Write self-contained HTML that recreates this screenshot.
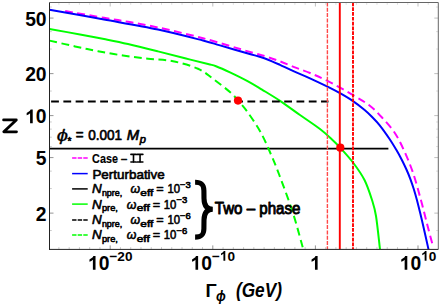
<!DOCTYPE html>
<html><head><meta charset="utf-8"><title>plot</title>
<style>
html,body{margin:0;padding:0;background:#fff;}
body{width:442px;height:305px;overflow:hidden;font-family:"Liberation Sans",sans-serif;}
svg{display:block}
text{font-family:"Liberation Sans",sans-serif;fill:#000}
.tk{font-weight:bold;font-size:19.3px}
.lg{font-weight:normal;stroke:#000;stroke-width:0.62px;stroke-linejoin:round}
.lb{font-weight:normal;stroke:#000;stroke-width:0.9px;stroke-linejoin:round}
</style></head><body>
<svg width="442" height="305" viewBox="0 0 442 305">
<rect x="0" y="0" width="442" height="305" fill="#fff"/>
<defs><clipPath id="cp"><rect x="49.5" y="2.5" width="388.8" height="246.9"/></clipPath></defs>
<g clip-path="url(#cp)" fill="none" stroke-linecap="butt" stroke-linejoin="round">
<path d="M65.20,11.10 C71.67,12.22 93.53,16.02 104.00,17.80 C114.47,19.58 119.00,20.18 128.00,21.80 C137.00,23.42 145.50,24.77 158.00,27.50 C170.50,30.23 188.00,34.22 203.00,38.20 C218.00,42.18 237.72,48.42 248.00,51.40 C258.28,54.38 259.45,54.47 264.70,56.10 C269.95,57.73 274.58,59.37 279.50,61.20 C284.42,63.03 289.12,65.13 294.20,67.10 C299.28,69.07 304.37,70.65 310.00,73.00 C315.63,75.35 320.83,77.52 328.00,81.20 C335.17,84.88 346.08,91.05 353.00,95.10 C359.92,99.15 364.67,101.77 369.50,105.50 C374.33,109.23 377.83,113.00 382.00,117.50 C386.17,122.00 390.87,127.08 394.50,132.50 C398.13,137.92 400.73,143.33 403.80,150.00 C406.87,156.67 410.05,164.17 412.90,172.50 C415.75,180.83 418.45,191.08 420.90,200.00 C423.35,208.92 425.62,218.40 427.60,226.00 C429.58,233.60 431.93,242.33 432.80,245.60" stroke="#ff00ff" stroke-width="2" stroke-dasharray="7.8 4.5"/>
<path d="M49.50,9.80 C58.58,11.42 85.92,16.22 104.00,19.50 C122.08,22.78 141.50,26.00 158.00,29.50 C174.50,33.00 192.67,37.85 203.00,40.50 C213.33,43.15 212.50,43.23 220.00,45.40 C227.50,47.57 241.67,51.68 248.00,53.50 C254.33,55.32 255.17,55.47 258.00,56.30 C260.83,57.13 262.67,57.67 265.00,58.50 C267.33,59.33 269.50,60.23 272.00,61.30 C274.50,62.37 276.33,63.22 280.00,64.90 C283.67,66.58 289.00,69.17 294.00,71.40 C299.00,73.63 304.33,75.72 310.00,78.30 C315.67,80.88 323.00,84.42 328.00,86.90 C333.00,89.38 335.83,90.83 340.00,93.20 C344.17,95.57 348.89,98.30 353.00,101.10 C357.11,103.90 361.48,107.35 364.66,110.00 C367.84,112.65 369.57,114.45 372.08,117.00 C374.59,119.55 376.78,121.60 379.72,125.30 C382.66,129.00 386.97,135.12 389.73,139.20 C392.49,143.28 394.30,146.38 396.30,149.80 C398.30,153.22 400.06,156.42 401.75,159.70 C403.44,162.98 405.00,166.23 406.45,169.50 C407.90,172.77 409.24,176.02 410.47,179.30 C411.70,182.58 412.76,185.75 413.84,189.20 C414.91,192.65 415.78,195.70 416.92,200.00 C418.06,204.30 419.65,210.83 420.67,215.00 C421.69,219.17 421.71,219.27 423.02,225.00 C424.33,230.73 427.59,245.33 428.51,249.40" stroke="#0000ff" stroke-width="2"/>
<line x1="49.5" y1="148.7" x2="388.4" y2="148.7" stroke="#000" stroke-width="1.7"/>
<path d="M49.50,28.90 C54.58,29.83 70.92,32.80 80.00,34.50 C89.08,36.20 96.00,37.50 104.00,39.10 C112.00,40.70 119.00,42.05 128.00,44.10 C137.00,46.15 148.50,49.03 158.00,51.40 C167.50,53.77 176.67,56.20 185.00,58.30 C193.33,60.40 202.83,62.68 208.00,64.00 C213.17,65.32 212.33,64.82 216.00,66.20 C219.67,67.58 224.67,69.78 230.00,72.30 C235.33,74.82 242.67,78.42 248.00,81.30 C253.33,84.18 256.67,86.35 262.00,89.60 C267.33,92.85 273.67,96.57 280.00,100.80 C286.33,105.03 293.33,110.30 300.00,115.00 C306.67,119.70 314.67,124.92 320.00,129.00 C325.33,133.08 328.67,136.42 332.00,139.50 C335.33,142.58 336.50,143.67 340.00,147.50 C343.50,151.33 348.92,157.08 353.00,162.50 C357.08,167.92 361.33,173.75 364.50,180.00 C367.67,186.25 370.08,194.00 372.00,200.00 C373.92,206.00 374.67,207.77 376.00,216.00 C377.33,224.23 379.33,243.83 380.00,249.40" stroke="#00ff00" stroke-width="2"/>
<line x1="51.1" y1="101.5" x2="328.5" y2="101.5" stroke="#000" stroke-width="1.8" stroke-dasharray="7.8 4.47"/>
<path d="M49.50,40.60 C53.75,41.57 66.92,44.63 75.00,46.40 C83.08,48.17 90.00,49.68 98.00,51.20 C106.00,52.72 114.67,54.24 123.00,55.50 C131.33,56.76 139.67,57.79 148.00,58.75 C156.33,59.71 164.67,59.58 173.00,61.25 C181.33,62.92 191.33,65.83 198.00,68.75 C204.67,71.67 207.58,74.79 213.00,78.75 C218.42,82.71 226.33,88.88 230.50,92.50 C234.67,96.12 235.12,97.17 238.00,100.50 C240.88,103.83 244.00,107.17 247.80,112.50 C251.60,117.83 256.90,125.42 260.80,132.50 C264.70,139.58 268.12,147.92 271.20,155.00 C274.28,162.08 275.70,165.42 279.30,175.00 C282.90,184.58 288.80,200.10 292.80,212.50 C296.80,224.90 301.55,243.25 303.30,249.40" stroke="#00ff00" stroke-width="2" stroke-dasharray="7.8 4.5"/>
<line x1="327.4" y1="2.5" x2="327.4" y2="249.4" stroke="#ff4848" stroke-width="1.4" stroke-dasharray="4 1.3"/>
<line x1="339.8" y1="2.5" x2="339.8" y2="249.4" stroke="#ff0000" stroke-width="1.9"/>
<line x1="353.0" y1="2.5" x2="353.0" y2="249.4" stroke="#ff0000" stroke-width="1.9" stroke-dasharray="3.7 1.1"/>
<circle cx="238" cy="100.6" r="4.1" fill="#ff0000" stroke="none"/>
<circle cx="340.3" cy="147.7" r="4.1" fill="#ff0000" stroke="none"/>
</g>
<g><line x1="58.90" y1="249.40" x2="58.90" y2="247.10" stroke="#000" stroke-opacity="0.35" stroke-width="0.6"/><line x1="58.90" y1="2.50" x2="58.90" y2="4.80" stroke="#666" stroke-opacity="0.35" stroke-width="0.6"/><line x1="69.16" y1="249.40" x2="69.16" y2="247.10" stroke="#000" stroke-opacity="0.35" stroke-width="0.6"/><line x1="69.16" y1="2.50" x2="69.16" y2="4.80" stroke="#666" stroke-opacity="0.35" stroke-width="0.6"/><line x1="79.42" y1="249.40" x2="79.42" y2="247.10" stroke="#000" stroke-opacity="0.35" stroke-width="0.6"/><line x1="79.42" y1="2.50" x2="79.42" y2="4.80" stroke="#666" stroke-opacity="0.35" stroke-width="0.6"/><line x1="89.68" y1="249.40" x2="89.68" y2="247.10" stroke="#000" stroke-opacity="0.35" stroke-width="0.6"/><line x1="89.68" y1="2.50" x2="89.68" y2="4.80" stroke="#666" stroke-opacity="0.35" stroke-width="0.6"/><line x1="99.94" y1="249.40" x2="99.94" y2="247.10" stroke="#000" stroke-opacity="0.35" stroke-width="0.6"/><line x1="99.94" y1="2.50" x2="99.94" y2="4.80" stroke="#666" stroke-opacity="0.35" stroke-width="0.6"/><line x1="110.20" y1="249.40" x2="110.20" y2="245.40" stroke="#000" stroke-opacity="0.7" stroke-width="0.6"/><line x1="110.20" y1="2.50" x2="110.20" y2="6.50" stroke="#666" stroke-opacity="0.7" stroke-width="0.6"/><line x1="120.46" y1="249.40" x2="120.46" y2="247.10" stroke="#000" stroke-opacity="0.35" stroke-width="0.6"/><line x1="120.46" y1="2.50" x2="120.46" y2="4.80" stroke="#666" stroke-opacity="0.35" stroke-width="0.6"/><line x1="130.72" y1="249.40" x2="130.72" y2="247.10" stroke="#000" stroke-opacity="0.35" stroke-width="0.6"/><line x1="130.72" y1="2.50" x2="130.72" y2="4.80" stroke="#666" stroke-opacity="0.35" stroke-width="0.6"/><line x1="140.98" y1="249.40" x2="140.98" y2="247.10" stroke="#000" stroke-opacity="0.35" stroke-width="0.6"/><line x1="140.98" y1="2.50" x2="140.98" y2="4.80" stroke="#666" stroke-opacity="0.35" stroke-width="0.6"/><line x1="151.24" y1="249.40" x2="151.24" y2="247.10" stroke="#000" stroke-opacity="0.35" stroke-width="0.6"/><line x1="151.24" y1="2.50" x2="151.24" y2="4.80" stroke="#666" stroke-opacity="0.35" stroke-width="0.6"/><line x1="161.50" y1="249.40" x2="161.50" y2="247.10" stroke="#000" stroke-opacity="0.35" stroke-width="0.6"/><line x1="161.50" y1="2.50" x2="161.50" y2="4.80" stroke="#666" stroke-opacity="0.35" stroke-width="0.6"/><line x1="171.76" y1="249.40" x2="171.76" y2="247.10" stroke="#000" stroke-opacity="0.35" stroke-width="0.6"/><line x1="171.76" y1="2.50" x2="171.76" y2="4.80" stroke="#666" stroke-opacity="0.35" stroke-width="0.6"/><line x1="182.02" y1="249.40" x2="182.02" y2="247.10" stroke="#000" stroke-opacity="0.35" stroke-width="0.6"/><line x1="182.02" y1="2.50" x2="182.02" y2="4.80" stroke="#666" stroke-opacity="0.35" stroke-width="0.6"/><line x1="192.28" y1="249.40" x2="192.28" y2="247.10" stroke="#000" stroke-opacity="0.35" stroke-width="0.6"/><line x1="192.28" y1="2.50" x2="192.28" y2="4.80" stroke="#666" stroke-opacity="0.35" stroke-width="0.6"/><line x1="202.54" y1="249.40" x2="202.54" y2="247.10" stroke="#000" stroke-opacity="0.35" stroke-width="0.6"/><line x1="202.54" y1="2.50" x2="202.54" y2="4.80" stroke="#666" stroke-opacity="0.35" stroke-width="0.6"/><line x1="212.80" y1="249.40" x2="212.80" y2="245.40" stroke="#000" stroke-opacity="0.7" stroke-width="0.6"/><line x1="212.80" y1="2.50" x2="212.80" y2="6.50" stroke="#666" stroke-opacity="0.7" stroke-width="0.6"/><line x1="223.06" y1="249.40" x2="223.06" y2="247.10" stroke="#000" stroke-opacity="0.35" stroke-width="0.6"/><line x1="223.06" y1="2.50" x2="223.06" y2="4.80" stroke="#666" stroke-opacity="0.35" stroke-width="0.6"/><line x1="233.32" y1="249.40" x2="233.32" y2="247.10" stroke="#000" stroke-opacity="0.35" stroke-width="0.6"/><line x1="233.32" y1="2.50" x2="233.32" y2="4.80" stroke="#666" stroke-opacity="0.35" stroke-width="0.6"/><line x1="243.58" y1="249.40" x2="243.58" y2="247.10" stroke="#000" stroke-opacity="0.35" stroke-width="0.6"/><line x1="243.58" y1="2.50" x2="243.58" y2="4.80" stroke="#666" stroke-opacity="0.35" stroke-width="0.6"/><line x1="253.84" y1="249.40" x2="253.84" y2="247.10" stroke="#000" stroke-opacity="0.35" stroke-width="0.6"/><line x1="253.84" y1="2.50" x2="253.84" y2="4.80" stroke="#666" stroke-opacity="0.35" stroke-width="0.6"/><line x1="264.10" y1="249.40" x2="264.10" y2="247.10" stroke="#000" stroke-opacity="0.35" stroke-width="0.6"/><line x1="264.10" y1="2.50" x2="264.10" y2="4.80" stroke="#666" stroke-opacity="0.35" stroke-width="0.6"/><line x1="274.36" y1="249.40" x2="274.36" y2="247.10" stroke="#000" stroke-opacity="0.35" stroke-width="0.6"/><line x1="274.36" y1="2.50" x2="274.36" y2="4.80" stroke="#666" stroke-opacity="0.35" stroke-width="0.6"/><line x1="284.62" y1="249.40" x2="284.62" y2="247.10" stroke="#000" stroke-opacity="0.35" stroke-width="0.6"/><line x1="284.62" y1="2.50" x2="284.62" y2="4.80" stroke="#666" stroke-opacity="0.35" stroke-width="0.6"/><line x1="294.88" y1="249.40" x2="294.88" y2="247.10" stroke="#000" stroke-opacity="0.35" stroke-width="0.6"/><line x1="294.88" y1="2.50" x2="294.88" y2="4.80" stroke="#666" stroke-opacity="0.35" stroke-width="0.6"/><line x1="305.14" y1="249.40" x2="305.14" y2="247.10" stroke="#000" stroke-opacity="0.35" stroke-width="0.6"/><line x1="305.14" y1="2.50" x2="305.14" y2="4.80" stroke="#666" stroke-opacity="0.35" stroke-width="0.6"/><line x1="315.40" y1="249.40" x2="315.40" y2="245.40" stroke="#000" stroke-opacity="0.7" stroke-width="0.6"/><line x1="315.40" y1="2.50" x2="315.40" y2="6.50" stroke="#666" stroke-opacity="0.7" stroke-width="0.6"/><line x1="325.66" y1="249.40" x2="325.66" y2="247.10" stroke="#000" stroke-opacity="0.35" stroke-width="0.6"/><line x1="325.66" y1="2.50" x2="325.66" y2="4.80" stroke="#666" stroke-opacity="0.35" stroke-width="0.6"/><line x1="335.92" y1="249.40" x2="335.92" y2="247.10" stroke="#000" stroke-opacity="0.35" stroke-width="0.6"/><line x1="335.92" y1="2.50" x2="335.92" y2="4.80" stroke="#666" stroke-opacity="0.35" stroke-width="0.6"/><line x1="346.18" y1="249.40" x2="346.18" y2="247.10" stroke="#000" stroke-opacity="0.35" stroke-width="0.6"/><line x1="346.18" y1="2.50" x2="346.18" y2="4.80" stroke="#666" stroke-opacity="0.35" stroke-width="0.6"/><line x1="356.44" y1="249.40" x2="356.44" y2="247.10" stroke="#000" stroke-opacity="0.35" stroke-width="0.6"/><line x1="356.44" y1="2.50" x2="356.44" y2="4.80" stroke="#666" stroke-opacity="0.35" stroke-width="0.6"/><line x1="366.70" y1="249.40" x2="366.70" y2="247.10" stroke="#000" stroke-opacity="0.35" stroke-width="0.6"/><line x1="366.70" y1="2.50" x2="366.70" y2="4.80" stroke="#666" stroke-opacity="0.35" stroke-width="0.6"/><line x1="376.96" y1="249.40" x2="376.96" y2="247.10" stroke="#000" stroke-opacity="0.35" stroke-width="0.6"/><line x1="376.96" y1="2.50" x2="376.96" y2="4.80" stroke="#666" stroke-opacity="0.35" stroke-width="0.6"/><line x1="387.22" y1="249.40" x2="387.22" y2="247.10" stroke="#000" stroke-opacity="0.35" stroke-width="0.6"/><line x1="387.22" y1="2.50" x2="387.22" y2="4.80" stroke="#666" stroke-opacity="0.35" stroke-width="0.6"/><line x1="397.48" y1="249.40" x2="397.48" y2="247.10" stroke="#000" stroke-opacity="0.35" stroke-width="0.6"/><line x1="397.48" y1="2.50" x2="397.48" y2="4.80" stroke="#666" stroke-opacity="0.35" stroke-width="0.6"/><line x1="407.74" y1="249.40" x2="407.74" y2="247.10" stroke="#000" stroke-opacity="0.35" stroke-width="0.6"/><line x1="407.74" y1="2.50" x2="407.74" y2="4.80" stroke="#666" stroke-opacity="0.35" stroke-width="0.6"/><line x1="418.00" y1="249.40" x2="418.00" y2="245.40" stroke="#000" stroke-opacity="0.7" stroke-width="0.6"/><line x1="418.00" y1="2.50" x2="418.00" y2="6.50" stroke="#666" stroke-opacity="0.7" stroke-width="0.6"/><line x1="428.26" y1="249.40" x2="428.26" y2="247.10" stroke="#000" stroke-opacity="0.35" stroke-width="0.6"/><line x1="428.26" y1="2.50" x2="428.26" y2="4.80" stroke="#666" stroke-opacity="0.35" stroke-width="0.6"/><line x1="49.50" y1="230.54" x2="51.80" y2="230.54" stroke="#000" stroke-opacity="0.35" stroke-width="0.6"/><line x1="438.30" y1="230.54" x2="436.00" y2="230.54" stroke="#666" stroke-opacity="0.35" stroke-width="0.6"/><line x1="49.50" y1="213.11" x2="53.50" y2="213.11" stroke="#000" stroke-opacity="0.7" stroke-width="0.6"/><line x1="438.30" y1="213.11" x2="434.30" y2="213.11" stroke="#666" stroke-opacity="0.7" stroke-width="0.6"/><line x1="49.50" y1="188.54" x2="51.80" y2="188.54" stroke="#000" stroke-opacity="0.35" stroke-width="0.6"/><line x1="438.30" y1="188.54" x2="436.00" y2="188.54" stroke="#666" stroke-opacity="0.35" stroke-width="0.6"/><line x1="49.50" y1="171.11" x2="51.80" y2="171.11" stroke="#000" stroke-opacity="0.35" stroke-width="0.6"/><line x1="438.30" y1="171.11" x2="436.00" y2="171.11" stroke="#666" stroke-opacity="0.35" stroke-width="0.6"/><line x1="49.50" y1="157.59" x2="53.50" y2="157.59" stroke="#000" stroke-opacity="0.7" stroke-width="0.6"/><line x1="438.30" y1="157.59" x2="434.30" y2="157.59" stroke="#666" stroke-opacity="0.7" stroke-width="0.6"/><line x1="49.50" y1="146.55" x2="51.80" y2="146.55" stroke="#000" stroke-opacity="0.35" stroke-width="0.6"/><line x1="438.30" y1="146.55" x2="436.00" y2="146.55" stroke="#666" stroke-opacity="0.35" stroke-width="0.6"/><line x1="49.50" y1="137.21" x2="51.80" y2="137.21" stroke="#000" stroke-opacity="0.35" stroke-width="0.6"/><line x1="438.30" y1="137.21" x2="436.00" y2="137.21" stroke="#666" stroke-opacity="0.35" stroke-width="0.6"/><line x1="49.50" y1="129.12" x2="51.80" y2="129.12" stroke="#000" stroke-opacity="0.35" stroke-width="0.6"/><line x1="438.30" y1="129.12" x2="436.00" y2="129.12" stroke="#666" stroke-opacity="0.35" stroke-width="0.6"/><line x1="49.50" y1="121.98" x2="51.80" y2="121.98" stroke="#000" stroke-opacity="0.35" stroke-width="0.6"/><line x1="438.30" y1="121.98" x2="436.00" y2="121.98" stroke="#666" stroke-opacity="0.35" stroke-width="0.6"/><line x1="49.50" y1="115.60" x2="53.50" y2="115.60" stroke="#000" stroke-opacity="0.7" stroke-width="0.6"/><line x1="438.30" y1="115.60" x2="434.30" y2="115.60" stroke="#666" stroke-opacity="0.7" stroke-width="0.6"/><line x1="49.50" y1="91.04" x2="51.80" y2="91.04" stroke="#000" stroke-opacity="0.35" stroke-width="0.6"/><line x1="438.30" y1="91.04" x2="436.00" y2="91.04" stroke="#666" stroke-opacity="0.35" stroke-width="0.6"/><line x1="49.50" y1="73.61" x2="53.50" y2="73.61" stroke="#000" stroke-opacity="0.7" stroke-width="0.6"/><line x1="438.30" y1="73.61" x2="434.30" y2="73.61" stroke="#666" stroke-opacity="0.7" stroke-width="0.6"/><line x1="49.50" y1="49.04" x2="51.80" y2="49.04" stroke="#000" stroke-opacity="0.35" stroke-width="0.6"/><line x1="438.30" y1="49.04" x2="436.00" y2="49.04" stroke="#666" stroke-opacity="0.35" stroke-width="0.6"/><line x1="49.50" y1="31.61" x2="51.80" y2="31.61" stroke="#000" stroke-opacity="0.35" stroke-width="0.6"/><line x1="438.30" y1="31.61" x2="436.00" y2="31.61" stroke="#666" stroke-opacity="0.35" stroke-width="0.6"/><line x1="49.50" y1="18.09" x2="53.50" y2="18.09" stroke="#000" stroke-opacity="0.7" stroke-width="0.6"/><line x1="438.30" y1="18.09" x2="434.30" y2="18.09" stroke="#666" stroke-opacity="0.7" stroke-width="0.6"/><line x1="49.50" y1="7.05" x2="51.80" y2="7.05" stroke="#000" stroke-opacity="0.35" stroke-width="0.6"/><line x1="438.30" y1="7.05" x2="436.00" y2="7.05" stroke="#666" stroke-opacity="0.35" stroke-width="0.6"/></g>
<line x1="49.5" y1="2.5" x2="438.3" y2="2.5" stroke="#666" stroke-width="1"/>
<line x1="438.3" y1="2.5" x2="438.3" y2="249.4" stroke="#666" stroke-width="1"/>
<line x1="49.5" y1="2.5" x2="49.5" y2="249.9" stroke="#222" stroke-width="1"/>
<line x1="49.0" y1="249.4" x2="438.3" y2="249.4" stroke="#222" stroke-width="1"/>
<text x="25.14" y="25.79" font-size="19.3" font-weight="bold">5</text><text x="35.87" y="25.79" font-size="19.3" font-weight="bold">0</text><text x="25.14" y="81.31" font-size="19.3" font-weight="bold">2</text><text x="35.87" y="81.31" font-size="19.3" font-weight="bold">0</text><path d="M393,0 H256 V518 C206,471 147,436 79,414 V539 C115,551 154,573 196,606 C238,639 267,677 283,720 H393 Z" transform="translate(25.14,123.30) scale(0.01930,-0.01930)" fill="#000"/><text x="35.87" y="123.30" font-size="19.3" font-weight="bold">0</text><text x="35.87" y="165.29" font-size="19.3" font-weight="bold">5</text><text x="35.87" y="220.81" font-size="19.3" font-weight="bold">2</text>
<path d="M393,0 H256 V518 C206,471 147,436 79,414 V539 C115,551 154,573 196,606 C238,639 267,677 283,720 H393 Z" transform="translate(87.94,269.80) scale(0.01930,-0.01930)" fill="#000"/><text x="98.67" y="269.80" font-size="19.3" font-weight="bold">0</text><text x="109.40" y="260.80" font-size="13.6" font-weight="bold">−</text><text x="117.34" y="260.80" font-size="13.6" font-weight="bold">2</text><text x="124.90" y="260.80" font-size="13.6" font-weight="bold">0</text><path d="M393,0 H256 V518 C206,471 147,436 79,414 V539 C115,551 154,573 196,606 C238,639 267,677 283,720 H393 Z" transform="translate(190.54,269.80) scale(0.01930,-0.01930)" fill="#000"/><text x="201.27" y="269.80" font-size="19.3" font-weight="bold">0</text><text x="212.00" y="260.80" font-size="13.6" font-weight="bold">−</text><path d="M393,0 H256 V518 C206,471 147,436 79,414 V539 C115,551 154,573 196,606 C238,639 267,677 283,720 H393 Z" transform="translate(219.94,260.80) scale(0.01360,-0.01360)" fill="#000"/><text x="227.50" y="260.80" font-size="13.6" font-weight="bold">0</text><path d="M393,0 H256 V518 C206,471 147,436 79,414 V539 C115,551 154,573 196,606 C238,639 267,677 283,720 H393 Z" transform="translate(310.03,269.80) scale(0.01930,-0.01930)" fill="#000"/><path d="M393,0 H256 V518 C206,471 147,436 79,414 V539 C115,551 154,573 196,606 C238,639 267,677 283,720 H393 Z" transform="translate(399.71,269.80) scale(0.01930,-0.01930)" fill="#000"/><text x="410.44" y="269.80" font-size="19.3" font-weight="bold">0</text><path d="M393,0 H256 V518 C206,471 147,436 79,414 V539 C115,551 154,573 196,606 C238,639 267,677 283,720 H393 Z" transform="translate(421.17,260.80) scale(0.01360,-0.01360)" fill="#000"/><text x="428.73" y="260.80" font-size="13.6" font-weight="bold">0</text>
<path d="M3.6,119.9 L16.3,119.9 L3.8,131.8 L16.5,131.8" fill="none" stroke="#000" stroke-width="2.8" stroke-linecap="round" stroke-linejoin="round"/>
<text x="205.4" y="296.6" font-weight="bold" font-size="18.5">Γ</text><text x="215.9" y="301" font-weight="bold" font-style="italic" font-size="14.5" textLength="9.8" lengthAdjust="spacingAndGlyphs">ϕ</text><text x="236.0" y="296.6" font-weight="bold" font-style="italic" font-size="19.5" textLength="45.9" lengthAdjust="spacingAndGlyphs">(GeV)</text>
<text class="lg" x="56.80" y="140.50" font-size="16" textLength="11.20" lengthAdjust="spacingAndGlyphs" font-style="italic" style="stroke-width:0.3px">ϕ</text><text class="lg" x="67.60" y="144.90" font-size="10" textLength="4.00" lengthAdjust="spacingAndGlyphs" >*</text><text class="lg" x="75.80" y="140.30" font-size="13.8" textLength="7.80" lengthAdjust="spacingAndGlyphs" >=</text><text class="lg" x="88.20" y="140.30" font-size="13.8" textLength="33.90" lengthAdjust="spacingAndGlyphs" >0.001</text><text class="lg" x="126.70" y="140.30" font-size="13.8" textLength="12.40" lengthAdjust="spacingAndGlyphs" font-style="italic" >M</text><text class="lg" x="139.80" y="143.00" font-size="10.5" textLength="6.20" lengthAdjust="spacingAndGlyphs" font-style="italic" >p</text>
<!-- legend -->
<line x1="72.1" y1="157.9" x2="87.7" y2="157.9" stroke="#ff00ff" stroke-width="1.5" stroke-dasharray="4.4 1.2"/>
<line x1="72.1" y1="173.6" x2="87.7" y2="173.6" stroke="#0000ff" stroke-width="1.5"/>
<line x1="72.1" y1="188.9" x2="87.7" y2="188.9" stroke="#000" stroke-width="1.5"/>
<line x1="72.1" y1="204.1" x2="87.7" y2="204.1" stroke="#00ff00" stroke-width="1.5"/>
<line x1="72.1" y1="220.0" x2="87.7" y2="220.0" stroke="#000" stroke-width="1.5" stroke-dasharray="4.4 1.2"/>
<line x1="72.1" y1="235.1" x2="87.7" y2="235.1" stroke="#00ff00" stroke-width="1.5" stroke-dasharray="4.4 1.2"/>
<text class="lg" x="92.10" y="162.90" font-size="12.8" textLength="25.80" lengthAdjust="spacingAndGlyphs" style="font-weight:bold;stroke-width:0.15px">Case</text><text class="lg" x="121.30" y="162.90" font-size="12.8" textLength="5.60" lengthAdjust="spacingAndGlyphs" >–</text><path d="M133.5,154.2 V162.2 M130.9,154.4 H136.1 M130.9,162.0 H136.1 M140.05,154.2 V162.2 M137.3,154.4 H142.9 M137.3,162.0 H142.9" stroke="#000" stroke-width="1.6" fill="none" stroke-linecap="round"/><text class="lg" x="92.40" y="178.60" font-size="12.8" textLength="72.40" lengthAdjust="spacingAndGlyphs" >Perturbative</text><text class="lg" x="92.10" y="193.40" font-size="13" textLength="9.70" lengthAdjust="spacingAndGlyphs" font-style="italic" >N</text><text class="lg" x="101.90" y="196.00" font-size="9.8" textLength="20.40" lengthAdjust="spacingAndGlyphs" >npre,</text><text class="lg" x="130.40" y="193.40" font-size="13.5" textLength="9.60" lengthAdjust="spacingAndGlyphs" font-style="italic" >ω</text><text class="lg" x="140.30" y="196.00" font-size="9.8" textLength="13.00" lengthAdjust="spacingAndGlyphs" >eff</text><text class="lg" x="156.30" y="193.40" font-size="13.5" textLength="7.40" lengthAdjust="spacingAndGlyphs" >=</text><text class="lg" x="167.40" y="193.40" font-size="13.3" textLength="12.60" lengthAdjust="spacingAndGlyphs" >10</text><text class="lg" x="180.00" y="188.00" font-size="9.8" textLength="10.80" lengthAdjust="spacingAndGlyphs" >−3</text><text class="lg" x="92.10" y="208.80" font-size="13" textLength="9.70" lengthAdjust="spacingAndGlyphs" font-style="italic" >N</text><text class="lg" x="101.90" y="211.40" font-size="9.8" textLength="16.00" lengthAdjust="spacingAndGlyphs" >pre,</text><text class="lg" x="126.80" y="208.80" font-size="13.5" textLength="9.60" lengthAdjust="spacingAndGlyphs" font-style="italic" >ω</text><text class="lg" x="136.70" y="211.40" font-size="9.8" textLength="13.00" lengthAdjust="spacingAndGlyphs" >eff</text><text class="lg" x="152.70" y="208.80" font-size="13.5" textLength="7.40" lengthAdjust="spacingAndGlyphs" >=</text><text class="lg" x="163.80" y="208.80" font-size="13.3" textLength="12.60" lengthAdjust="spacingAndGlyphs" >10</text><text class="lg" x="176.40" y="203.40" font-size="9.8" textLength="10.80" lengthAdjust="spacingAndGlyphs" >−3</text><text class="lg" x="92.10" y="224.20" font-size="13" textLength="9.70" lengthAdjust="spacingAndGlyphs" font-style="italic" >N</text><text class="lg" x="101.90" y="226.80" font-size="9.8" textLength="20.40" lengthAdjust="spacingAndGlyphs" >npre,</text><text class="lg" x="130.40" y="224.20" font-size="13.5" textLength="9.60" lengthAdjust="spacingAndGlyphs" font-style="italic" >ω</text><text class="lg" x="140.30" y="226.80" font-size="9.8" textLength="13.00" lengthAdjust="spacingAndGlyphs" >eff</text><text class="lg" x="156.30" y="224.20" font-size="13.5" textLength="7.40" lengthAdjust="spacingAndGlyphs" >=</text><text class="lg" x="167.40" y="224.20" font-size="13.3" textLength="12.60" lengthAdjust="spacingAndGlyphs" >10</text><text class="lg" x="180.00" y="218.80" font-size="9.8" textLength="10.80" lengthAdjust="spacingAndGlyphs" >−6</text><text class="lg" x="92.10" y="239.40" font-size="13" textLength="9.70" lengthAdjust="spacingAndGlyphs" font-style="italic" >N</text><text class="lg" x="101.90" y="242.00" font-size="9.8" textLength="16.00" lengthAdjust="spacingAndGlyphs" >pre,</text><text class="lg" x="126.80" y="239.40" font-size="13.5" textLength="9.60" lengthAdjust="spacingAndGlyphs" font-style="italic" >ω</text><text class="lg" x="136.70" y="242.00" font-size="9.8" textLength="13.00" lengthAdjust="spacingAndGlyphs" >eff</text><text class="lg" x="152.70" y="239.40" font-size="13.5" textLength="7.40" lengthAdjust="spacingAndGlyphs" >=</text><text class="lg" x="163.80" y="239.40" font-size="13.3" textLength="12.60" lengthAdjust="spacingAndGlyphs" >10</text><text class="lg" x="176.40" y="234.00" font-size="9.8" textLength="10.80" lengthAdjust="spacingAndGlyphs" >−6</text>
<path d="M195.1,182.3 C201.6,182.3 203.8,184.4 203.9,190.6 L204.0,198.5 C204.1,205 206.5,209.2 212.8,209.2 C206.5,209.2 204.1,213.4 204.0,220 L203.9,228.8 C203.8,235 201.6,237.1 195.1,237.1" fill="none" stroke="#000" stroke-width="5.1" stroke-linecap="butt" stroke-linejoin="bevel"/>
<text class="lb" x="214.80" y="213.70" font-size="16" textLength="85.60" lengthAdjust="spacingAndGlyphs" >Two – phase</text>
</svg>
</body></html>
